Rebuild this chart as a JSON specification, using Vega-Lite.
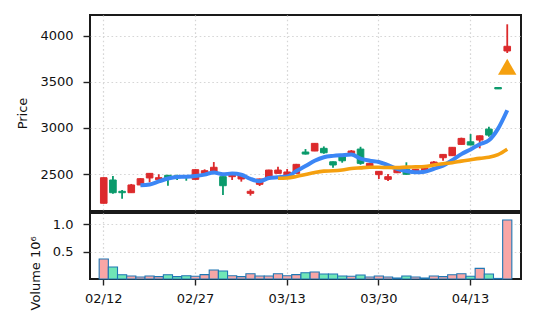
{
  "$schema": "https://vega.github.io/schema/vega-lite/v6.json",
  "padding": {"left": 15, "top": 14, "right": 5, "bottom": 5},
  "spacing": 0,
  "datasets": {
    "ohlc": [
      {"date":"02/12","o":2182,"h":2462,"l":2180,"c":2460,"v":366000,"ma5":null,"ma20":null},
      {"date":"02/13","o":2435,"h":2478,"l":2286,"c":2297,"v":220000,"ma5":null,"ma20":null},
      {"date":"02/17","o":2312,"h":2326,"l":2232,"c":2297,"v":79000,"ma5":null,"ma20":null},
      {"date":"02/18","o":2297,"h":2392,"l":2295,"c":2381,"v":55000,"ma5":null,"ma20":null},
      {"date":"02/19","o":2381,"h":2455,"l":2380,"c":2449,"v":37000,"ma5":2377,"ma20":null},
      {"date":"02/20","o":2457,"h":2510,"l":2410,"c":2507,"v":55000,"ma5":2386,"ma20":null},
      {"date":"02/23","o":2438,"h":2497,"l":2410,"c":2460,"v":43000,"ma5":2419,"ma20":null},
      {"date":"02/24","o":2486,"h":2490,"l":2373,"c":2457,"v":79000,"ma5":2451,"ma20":null},
      {"date":"02/25","o":2480,"h":2493,"l":2435,"c":2465,"v":43000,"ma5":2468,"ma20":null},
      {"date":"02/26","o":2478,"h":2489,"l":2427,"c":2462,"v":60000,"ma5":2470,"ma20":null},
      {"date":"02/27","o":2442,"h":2550,"l":2440,"c":2547,"v":50000,"ma5":2478,"ma20":null},
      {"date":"03/02","o":2507,"h":2551,"l":2500,"c":2536,"v":80000,"ma5":2493,"ma20":null},
      {"date":"03/03","o":2514,"h":2630,"l":2510,"c":2573,"v":165000,"ma5":2517,"ma20":null},
      {"date":"03/04","o":2471,"h":2475,"l":2272,"c":2373,"v":146000,"ma5":2498,"ma20":null},
      {"date":"03/05","o":2471,"h":2500,"l":2435,"c":2497,"v":60000,"ma5":2505,"ma20":null},
      {"date":"03/06","o":2446,"h":2485,"l":2417,"c":2482,"v":43000,"ma5":2492,"ma20":null},
      {"date":"03/09","o":2290,"h":2334,"l":2265,"c":2312,"v":97000,"ma5":2447,"ma20":null},
      {"date":"03/10","o":2388,"h":2450,"l":2370,"c":2446,"v":55000,"ma5":2422,"ma20":null},
      {"date":"03/11","o":2453,"h":2546,"l":2450,"c":2543,"v":55000,"ma5":2456,"ma20":null},
      {"date":"03/12","o":2507,"h":2579,"l":2505,"c":2543,"v":97000,"ma5":2465,"ma20":2454},
      {"date":"03/13","o":2471,"h":2554,"l":2465,"c":2522,"v":60000,"ma5":2473,"ma20":2457},
      {"date":"03/16","o":2507,"h":2610,"l":2505,"c":2605,"v":80000,"ma5":2532,"ma20":2473},
      {"date":"03/17","o":2739,"h":2771,"l":2712,"c":2717,"v":115000,"ma5":2586,"ma20":2494},
      {"date":"03/18","o":2750,"h":2836,"l":2748,"c":2833,"v":128000,"ma5":2644,"ma20":2516},
      {"date":"03/19","o":2779,"h":2800,"l":2720,"c":2731,"v":92000,"ma5":2682,"ma20":2531},
      {"date":"03/23","o":2633,"h":2636,"l":2568,"c":2598,"v":92000,"ma5":2697,"ma20":2535},
      {"date":"03/24","o":2688,"h":2692,"l":2623,"c":2644,"v":55000,"ma5":2705,"ma20":2544},
      {"date":"03/25","o":2717,"h":2760,"l":2715,"c":2750,"v":50000,"ma5":2711,"ma20":2559},
      {"date":"03/26","o":2771,"h":2796,"l":2601,"c":2616,"v":73000,"ma5":2668,"ma20":2567},
      {"date":"03/27","o":2587,"h":2622,"l":2585,"c":2616,"v":37000,"ma5":2645,"ma20":2574},
      {"date":"03/30","o":2493,"h":2532,"l":2446,"c":2529,"v":55000,"ma5":2631,"ma20":2573},
      {"date":"03/31","o":2442,"h":2500,"l":2424,"c":2471,"v":37000,"ma5":2596,"ma20":2570},
      {"date":"04/01","o":2514,"h":2546,"l":2510,"c":2543,"v":18000,"ma5":2555,"ma20":2569},
      {"date":"04/02","o":2551,"h":2627,"l":2495,"c":2497,"v":55000,"ma5":2531,"ma20":2575},
      {"date":"04/03","o":2518,"h":2555,"l":2515,"c":2551,"v":37000,"ma5":2518,"ma20":2577},
      {"date":"04/06","o":2525,"h":2565,"l":2520,"c":2562,"v":18000,"ma5":2525,"ma20":2581},
      {"date":"04/07","o":2610,"h":2640,"l":2600,"c":2630,"v":55000,"ma5":2557,"ma20":2597},
      {"date":"04/08","o":2677,"h":2716,"l":2644,"c":2713,"v":43000,"ma5":2591,"ma20":2611},
      {"date":"04/09","o":2699,"h":2793,"l":2697,"c":2790,"v":79000,"ma5":2649,"ma20":2623},
      {"date":"04/10","o":2822,"h":2895,"l":2820,"c":2887,"v":97000,"ma5":2716,"ma20":2640},
      {"date":"04/13","o":2850,"h":2934,"l":2812,"c":2815,"v":50000,"ma5":2767,"ma20":2655},
      {"date":"04/14","o":2869,"h":2918,"l":2779,"c":2915,"v":195000,"ma5":2824,"ma20":2670},
      {"date":"04/15","o":2988,"h":3013,"l":2905,"c":2923,"v":92000,"ma5":2866,"ma20":2681},
      {"date":"04/16","o":3440,"h":3442,"l":3423,"c":3425,"v":10000,"ma5":2993,"ma20":2710},
      {"date":"04/17","o":3837,"h":4127,"l":3815,"c":3888,"v":1080000,"ma5":3193,"ma20":2768}
    ],
    "signals": [
      {"date":"04/17","price":3665}
    ]
  },
  "vconcat": [
    {
      "width": 431,
      "height": 196,
      "encoding": {
        "x": {
          "field": "date", "type": "ordinal",
          "scale": {"type": "band", "paddingInner": 0, "paddingOuter": 2.7},
          "axis": {"labels": false, "ticks": false, "domain": false, "grid": true, "title": null,
                   "values": ["02/12","02/27","03/13","03/30","04/13"]}
        }
      },
      "layer": [
        {
          "data": {"name": "ohlc"},
          "mark": {"type": "rule", "strokeWidth": 1.8},
          "encoding": {
            "y": {"field": "l", "type": "quantitative",
                  "scale": {"domain": [2098, 4228], "nice": false, "zero": false},
                  "axis": {"title": "Price", "format": "d", "values": [2500, 3000, 3500, 4000], "titlePadding": 10}},
            "y2": {"field": "h"},
            "color": {"condition": {"test": "datum.c >= datum.o", "value": "#dc2a2c"}, "value": "#0a9a6b"}
          }
        },
        {
          "data": {"name": "ohlc"},
          "mark": {"type": "bar", "width": {"band": 0.72}, "strokeWidth": 1},
          "encoding": {
            "y": {"field": "o", "type": "quantitative"},
            "y2": {"field": "c"},
            "color": {"condition": {"test": "datum.c >= datum.o", "value": "#dc2a2c"}, "value": "#0a9a6b"},
            "stroke": {"condition": {"test": "datum.c >= datum.o", "value": "#dc2a2c"}, "value": "#0a9a6b"}
          }
        },
        {
          "data": {"name": "ohlc"},
          "mark": {"type": "line", "color": "#3b86f5", "strokeWidth": 4, "interpolate": "monotone"},
          "encoding": {"y": {"field": "ma5", "type": "quantitative"}}
        },
        {
          "data": {"name": "ohlc"},
          "mark": {"type": "line", "color": "#f5a00f", "strokeWidth": 3.6, "interpolate": "monotone"},
          "encoding": {"y": {"field": "ma20", "type": "quantitative"}}
        },
        {
          "data": {"name": "signals"},
          "mark": {"type": "point", "shape": "triangle-up", "filled": true, "size": 340, "color": "#f5a00f", "opacity": 1},
          "encoding": {"y": {"field": "price", "type": "quantitative"}}
        }
      ]
    },
    {
      "width": 431,
      "height": 66,
      "data": {"name": "ohlc"},
      "mark": {"type": "bar", "stroke": "#1f77b4", "strokeWidth": 1.1},
      "encoding": {
        "x": {
          "field": "date", "type": "ordinal",
          "scale": {"type": "band", "paddingInner": 0, "paddingOuter": 2.7},
          "axis": {"labelAngle": 0, "title": null, "tickSize": 6, "labelPadding": 7, "grid": true,
                   "values": ["02/12","02/27","03/13","03/30","04/13"]}
        },
        "y": {"field": "v", "type": "quantitative",
              "scale": {"domain": [0, 1209000], "nice": false},
              "axis": {"values": [500000, 1000000], "labelExpr": "format(datum.value / 1000000, '.1f')",
                       "title": "Volume 10⁶", "titleY": 97, "titleAlign": "left", "titlePadding": 10}},
        "color": {"condition": {"test": "datum.c >= datum.o", "value": "#f8a6a6"}, "value": "#70e6b6"}
      }
    }
  ],
  "config": {
    "font": "DejaVu Sans",
    "view": {"stroke": "#1a1a1a", "strokeWidth": 2},
    "axis": {
      "labelFont": "DejaVu Sans", "labelFontSize": 13, "labelColor": "#111",
      "titleFont": "DejaVu Sans", "titleFontSize": 13, "titleFontWeight": "normal", "titleColor": "#111",
      "tickColor": "#222", "tickWidth": 1.4, "tickSize": 7, "labelPadding": 10,
      "gridColor": "#d6d6d6", "gridDash": [1.6, 2.6], "gridWidth": 1.2, "domain": false
    }
  }
}
